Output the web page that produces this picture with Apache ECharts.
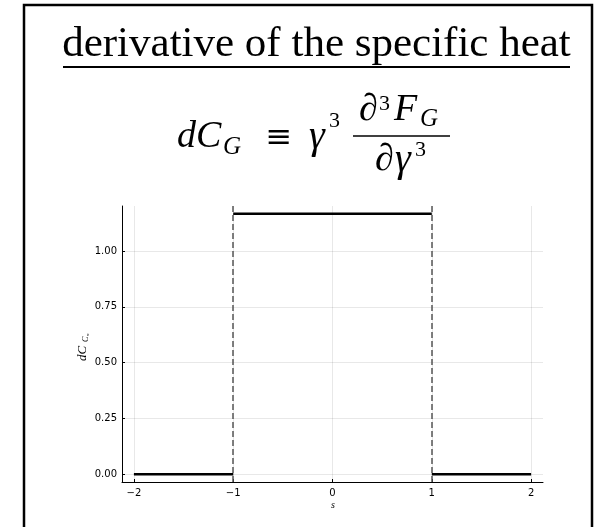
<!DOCTYPE html>
<html>
<head>
<meta charset="utf-8">
<script src="https://cdn.jsdelivr.net/npm/echarts@6/dist/echarts.min.js"></script>
<style>
  html, body { margin: 0; padding: 0; background: #fff; }
  #chart { width: 602px; height: 527px; }
</style>
</head>
<body>
<div id="chart"></div>
<script>
// Piecewise-constant derivative of the specific heat against s
const leftS = [-2, -1];
const leftDC = [0, 0];
const midS = [-1, 1];
const midDC = [1.1667, 1.1667];
const rightS = [1, 2];
const rightDC = [0, 0];
// Boundaries of the plateau, drawn as dashed verticals
const boundaries = [-1, 1];
// Axis ticks and their labels
const xTicks = [-2, -1, 0, 1, 2];
const xTickLabels = ['\u22122', '\u22121', '0', '1', '2'];
const yTicks = [0, 0.25, 0.5, 0.75, 1];
const yTickLabels = ['0.00', '0.25', '0.50', '0.75', '1.00'];

const pairs = (xs, ys) => xs.map((x, i) => [x, ys[i]]);

const serif = '"Liberation Serif", "DejaVu Serif", serif';
const sans = '"DejaVu Sans", sans-serif';

function txt(x, y, text, size, italic, align, family) {
  return {
    type: 'text', x: x, y: y, silent: true,
    style: {
      text: text,
      font: (italic ? 'italic ' : '') + size + 'px ' + (family || serif),
      fill: '#000',
      textAlign: align || 'left',
      textVerticalAlign: 'middle'
    }
  };
}

const chart = echarts.init(document.getElementById('chart'), null, { renderer: 'canvas' });

const stepLine = {
  type: 'line', showSymbol: false, symbol: 'none', silent: true,
  lineStyle: { color: '#000', width: 2.5 }
};

chart.setOption({
  animation: false,
  backgroundColor: '#fff',
  grid: { left: 122, right: 59, top: 206, bottom: 45 },
  xAxis: {
    type: 'value', min: -2.12, max: 2.12,
    axisLine: { show: true, onZero: false, lineStyle: { color: '#000', width: 1 } },
    axisTick: { show: true, inside: true, length: 3, customValues: xTicks, lineStyle: { color: '#000' } },
    axisLabel: {
      customValues: xTicks, margin: 6, color: '#000', fontSize: 10, fontFamily: sans,
      formatter: v => xTickLabels[xTicks.indexOf(v)]
    },
    splitLine: { show: true, lineStyle: { color: 'rgba(0,0,0,0.09)', width: 1 } }
  },
  yAxis: {
    type: 'value', min: -0.035, max: 1.2017,
    axisLine: { show: true, onZero: false, lineStyle: { color: '#000', width: 1 } },
    axisTick: { show: true, inside: true, length: 3, customValues: yTicks, lineStyle: { color: '#000' } },
    axisLabel: {
      customValues: yTicks, margin: 5, color: '#000', fontSize: 10, fontFamily: sans,
      formatter: v => yTickLabels[yTicks.indexOf(v)]
    },
    splitLine: { show: true, lineStyle: { color: 'rgba(0,0,0,0.09)', width: 1 } }
  },
  series: [
    Object.assign({ data: pairs(leftS, leftDC) }, stepLine),
    Object.assign({ data: pairs(midS, midDC) }, stepLine),
    Object.assign({ data: pairs(rightS, rightDC) }, stepLine),
    {
      type: 'line', data: [], silent: true,
      markLine: {
        silent: true, symbol: ['none', 'none'], label: { show: false },
        lineStyle: { color: '#555', type: [6, 3], width: 1.5 },
        data: boundaries.map(b => ({ xAxis: b }))
      }
    }
  ],
  graphic: [
    // outer frame
    { type: 'rect', silent: true, shape: { x: 24, y: 5, width: 568, height: 560 },
      style: { fill: 'none', stroke: '#000', lineWidth: 2.5 } },
    // title with underline
    txt(316.5, 44.5, 'derivative of the specific heat', 43, false, 'center'),
    { type: 'line', silent: true, shape: { x1: 63, y1: 67, x2: 570, y2: 67 },
      style: { stroke: '#000', lineWidth: 2 } },
    // dC_G ≡ γ^3 ∂^3F_G / ∂γ^3
    txt(177, 137.2, 'dC', 38, true),
    txt(223, 147.6, 'G', 25, true),
    txt(279, 139, '\u2261', 32, false, 'center', '"DejaVu Serif", serif'),
    txt(309, 137.2, '\u03b3', 40, true),
    txt(329, 121.6, '3', 22, false),
    txt(359, 110.2, '\u2202', 38, true),
    txt(379, 104.6, '3', 22, false),
    txt(394, 110.2, 'F', 38, true),
    txt(420, 119.6, 'G', 25, true),
    { type: 'line', silent: true, shape: { x1: 353, y1: 136, x2: 450, y2: 136 },
      style: { stroke: '#000', lineWidth: 1.5 } },
    txt(375, 160.2, '\u2202', 38, true),
    txt(395, 160.2, '\u03b3', 40, true),
    txt(415, 150.6, '3', 22, false),
    // axis titles
    {
      type: 'group', x: 83, y: 345, rotation: Math.PI / 2, silent: true,
      children: [
        txt(-16, 0, 'dC', 13, true),
        txt(3, 3, 'C', 8, true),
        txt(9, 5, 'n', 5, true)
      ]
    },
    txt(333, 505, 's', 10, true, 'center')
  ]
});
</script>
</body>
</html>
